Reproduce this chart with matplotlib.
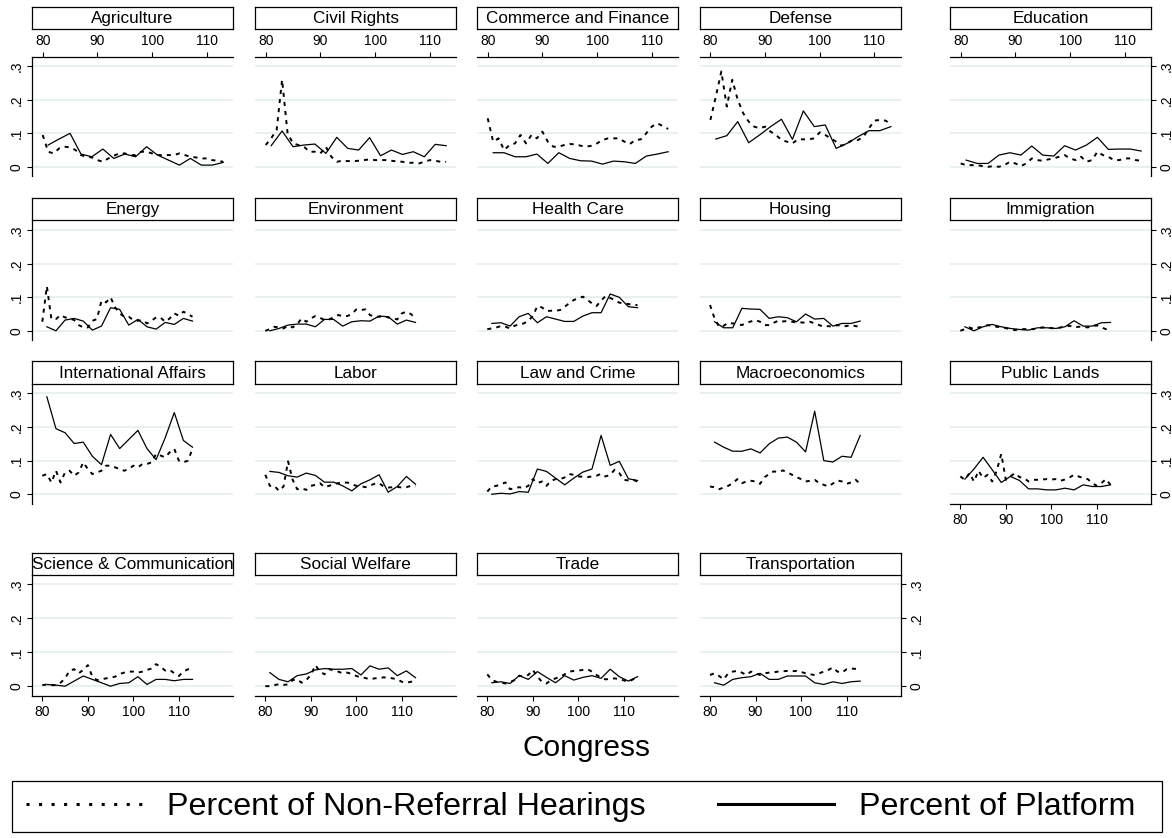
import matplotlib
matplotlib.use("Agg")
import matplotlib.pyplot as plt
from matplotlib.lines import Line2D
from matplotlib.patches import Rectangle

plt.rcParams['font.family'] = ['Liberation Sans', 'DejaVu Sans']

# ---------------- data ----------------
hear_congress = [80, 81, 82, 83, 84, 85, 86, 87, 88, 89, 90, 91, 92, 93, 94, 95, 96,
                 97, 98, 99, 100, 101, 102, 103, 104, 105, 106, 107, 108, 109, 110, 111, 112, 113]
plat_congress = [81, 83, 85, 87, 89, 91, 93, 95, 97, 99, 101, 103, 105, 107, 109, 111, 113]

topic_names = ["Agriculture", "Civil Rights", "Commerce and Finance", "Defense", "Education",
               "Energy", "Environment", "Health Care", "Housing", "Immigration",
               "International Affairs", "Labor", "Law and Crime", "Macroeconomics", "Public Lands",
               "Science & Communication", "Social Welfare", "Trade", "Transportation"]

agriculture_hear = [.095, .045, .040, .055, .060, .058, .050, .035, .030, .028, .020, .015, .025, .033, .040, .040, .035,
                    .035, .045, .045, .040, .035, .035, .035, .035, .040, .035, .030, .028, .025, .025, .020, .018, .015]
agriculture_plat = [.065, .083, .100, .038, .030, .053, .025, .038, .030, .060, .035, .020, .005, .025, .005, .005, .013]

civil_rights_hear = [.065, .085, .110, .260, .100, .070, .065, .060, .045, .045, .040, .060, .030, .015, .018, .017, .017,
                     .018, .020, .022, .020, .020, .020, .018, .016, .015, .012, .012, .010, .015, .020, .018, .015, .015]
civil_rights_plat = [.063, .107, .060, .065, .068, .040, .088, .055, .050, .087, .033, .050, .037, .045, .030, .067, .063]

commerce_hear = [.145, .075, .085, .050, .065, .070, .095, .070, .095, .085, .105, .075, .060, .060, .065, .068, .067,
                 .063, .060, .063, .070, .080, .085, .085, .085, .075, .068, .080, .082, .100, .120, .130, .122, .113]
commerce_plat = [.042, .042, .030, .030, .038, .010, .042, .025, .018, .017, .008, .017, .015, .010, .032, .038, .045]

defense_hear = [.140, .210, .285, .180, .260, .200, .160, .135, .120, .115, .120, .105, .095, .080, .075, .070, .082,
                .082, .082, .085, .103, .095, .085, .075, .063, .070, .080, .080, .090, .115, .138, .140, .138, .128]
defense_plat = [.083, .093, .135, .072, .095, .120, .142, .082, .167, .120, .125, .055, .070, .090, .108, .108, .120]

education_hear = [.010, .005, .005, .005, .002, .000, .002, .000, .005, .015, .010, .002, .010, .025, .020, .018, .022,
                  .025, .030, .035, .025, .020, .030, .015, .020, .045, .035, .030, .020, .020, .025, .025, .020, .018]
education_plat = [.020, .010, .010, .035, .042, .035, .062, .035, .032, .063, .050, .065, .088, .052, .053, .053, .047]

energy_hear = [.027, .133, .035, .035, .047, .040, .037, .032, .017, .010, .010, .030, .035, .090, .085, .100, .070,
               .052, .042, .042, .032, .030, .032, .022, .030, .040, .039, .027, .037, .052, .045, .057, .050, .042]
energy_plat = [.012, .000, .032, .037, .029, .002, .014, .069, .064, .017, .034, .012, .005, .025, .019, .037, .029]

environment_hear = [.000, .005, .012, .010, .007, .015, .010, .020, .037, .027, .037, .044, .039, .032, .034, .040, .047,
                    .044, .044, .050, .064, .062, .064, .047, .042, .042, .044, .040, .037, .034, .052, .057, .050, .037]
environment_plat = [.000, .007, .017, .020, .020, .012, .034, .034, .014, .027, .030, .029, .044, .042, .020, .032, .025]

health_hear = [.005, .007, .010, .014, .012, .007, .015, .019, .022, .030, .044, .074, .070, .059, .060, .060, .062,
               .072, .082, .092, .097, .102, .092, .082, .074, .090, .104, .098, .092, .084, .082, .080, .077, .077]
health_plat = [.022, .024, .014, .042, .052, .024, .042, .035, .028, .028, .044, .054, .054, .110, .100, .072, .069]

housing_hear = [.077, .037, .012, .015, .024, .022, .020, .017, .024, .028, .032, .027, .017, .017, .024, .030, .028,
                .029, .027, .025, .025, .024, .027, .022, .017, .012, .014, .012, .017, .014, .014, .017, .014, .012]
housing_plat = [.027, .009, .009, .067, .065, .064, .037, .042, .039, .027, .050, .035, .037, .014, .022, .022, .029]

immigration_hear = [.000, .005, .010, .005, .010, .012, .017, .015, .012, .010, .008, .005, .002, .005, .005, .005, .005,
                    .008, .010, .010, .008, .007, .010, .012, .015, .010, .012, .012, .010, .014, .016, .010, .005, .007]
immigration_plat = [.012, .000, .012, .019, .012, .007, .004, .002, .009, .009, .007, .012, .030, .014, .014, .024, .025]

intl_hear = [.055, .060, .035, .070, .035, .065, .070, .055, .065, .095, .075, .060, .065, .070, .085, .085, .080,
             .075, .070, .075, .085, .080, .090, .090, .095, .120, .115, .110, .125, .135, .100, .095, .100, .135]
intl_plat = [.290, .195, .183, .151, .155, .113, .088, .178, .136, .163, .190, .136, .103, .168, .243, .160, .140]

labor_hear = [.058, .025, .025, .010, .023, .098, .043, .015, .018, .013, .025, .028, .033, .021, .025, .030, .033,
              .034, .035, .030, .025, .024, .021, .026, .031, .033, .023, .020, .021, .022, .020, .021, .025, .025]
labor_plat = [.068, .065, .055, .051, .063, .056, .036, .036, .025, .010, .031, .043, .058, .006, .023, .053, .030]

law_hear = [.008, .023, .025, .030, .035, .015, .018, .021, .018, .025, .045, .033, .038, .025, .040, .045, .045,
            .050, .060, .058, .053, .052, .051, .053, .055, .061, .053, .058, .073, .063, .043, .041, .043, .038]
law_plat = [.000, .003, .001, .008, .006, .075, .068, .048, .028, .048, .066, .075, .175, .086, .098, .046, .041]

macro_hear = [.023, .021, .015, .020, .025, .033, .045, .033, .038, .040, .038, .031, .051, .060, .068, .066, .071,
              .065, .058, .051, .045, .038, .040, .043, .033, .028, .023, .032, .041, .038, .031, .035, .043, .031]
macro_plat = [.155, .140, .128, .128, .135, .123, .150, .167, .170, .155, .126, .247, .100, .096, .113, .110, .175]

public_lands_hear = [.053, .043, .063, .038, .070, .048, .058, .038, .070, .120, .043, .053, .063, .051, .048, .038, .043,
                     .043, .044, .045, .044, .045, .040, .044, .050, .058, .053, .048, .045, .033, .025, .033, .045, .028]
public_lands_plat = [.045, .075, .110, .073, .035, .053, .041, .016, .016, .013, .013, .018, .013, .028, .023, .023, .028]

science_hear = [.003, .005, .003, .003, .010, .023, .046, .050, .038, .048, .062, .028, .018, .020, .023, .025, .028,
                .036, .040, .043, .043, .040, .043, .048, .052, .065, .057, .046, .048, .038, .030, .043, .050, .048]
science_plat = [.005, .003, .000, .015, .030, .020, .010, .000, .008, .010, .028, .005, .020, .020, .016, .020, .020]

welfare_hear = [.000, .000, .003, .006, .004, .005, .018, .020, .010, .018, .033, .062, .043, .035, .050, .047, .043,
                .038, .040, .036, .030, .026, .024, .020, .023, .024, .026, .025, .023, .020, .013, .010, .013, .015]
welfare_plat = [.040, .020, .013, .031, .036, .048, .052, .050, .050, .052, .033, .060, .050, .054, .031, .045, .025]

trade_hear = [.035, .018, .013, .010, .008, .012, .018, .031, .028, .033, .048, .028, .013, .008, .018, .023, .028,
              .035, .043, .045, .046, .048, .050, .043, .033, .025, .020, .022, .023, .020, .017, .013, .020, .025]
trade_plat = [.010, .013, .008, .031, .020, .043, .026, .010, .031, .018, .026, .031, .023, .050, .028, .015, .028]

transport_hear = [.033, .038, .030, .020, .038, .043, .045, .040, .033, .043, .038, .033, .038, .040, .041, .043, .044,
                  .045, .044, .045, .042, .038, .035, .033, .038, .043, .048, .055, .043, .040, .050, .052, .051, .050]
transport_plat = [.010, .003, .020, .025, .028, .038, .020, .020, .030, .030, .030, .010, .005, .013, .008, .013, .015]

hear_series = [agriculture_hear, civil_rights_hear, commerce_hear, defense_hear, education_hear,
               energy_hear, environment_hear, health_hear, housing_hear, immigration_hear,
               intl_hear, labor_hear, law_hear, macro_hear, public_lands_hear,
               science_hear, welfare_hear, trade_hear, transport_hear]
plat_series = [agriculture_plat, civil_rights_plat, commerce_plat, defense_plat, education_plat,
               energy_plat, environment_plat, health_plat, housing_plat, immigration_plat,
               intl_plat, labor_plat, law_plat, macro_plat, public_lands_plat,
               science_plat, welfare_plat, trade_plat, transport_plat]

y_ticks = [0, .1, .2, .3]
y_ticklabels = ['0', '.1', '.2', '.3']
x_ticks = [80, 90, 100, 110]
legend_labels = ['Percent of Non-Referral Hearings', 'Percent of Platform']
x_title = 'Congress'

# ---------------- layout (pixels) ----------------
W, H = 1172, 838
fig = plt.figure(figsize=(W / 100, H / 100), dpi=100)


def fx(px):
    return px / W


def fy(py):
    return 1 - py / H


col_left = [32.3, 255.3, 477.3, 700.0, 950.3]
col_w = 200.7
row_tb = [(57.0, 176.5), (221.0, 340.5), (384.0, 504.0), (575.0, 696.0)]
title_top = [7.0, 198.0, 361.5, 552.5]
title_h = 22.5
GRID = '#e3ecee'

for idx, name in enumerate(topic_names):
    row, col = idx // 5, idx % 5
    top, bot = row_tb[row]
    left = col_left[col]
    ax = fig.add_axes([fx(left), fy(bot), col_w / W, (bot - top) / H])
    ax.plot(hear_congress, hear_series[idx], color='black', lw=1.4,
            linestyle=(0, (2.1, 2.6)))
    ax.plot(plat_congress, plat_series[idx], color='black', lw=0.9)

    ax.set_ylim(-0.029, 0.328)
    ax.set_yticks(y_ticks)
    ax.set_yticklabels(y_ticklabels)
    ax.grid(axis='y', color=GRID, lw=1.1)
    ax.set_axisbelow(True)
    if row == 0:
        ax.set_xlim(78.1, 114.8)
    else:
        ax.set_xlim(77.8, 121.9)
    ax.set_xticks(x_ticks)
    ax.set_xticklabels([str(v) for v in x_ticks])
    for s in ax.spines.values():
        s.set_visible(False)
        s.set_linewidth(0.9)

    top_x = row == 0
    bottom_x = row == 3 or idx == 14
    left_y = col == 0
    right_y = col == 4 or idx == 18
    ax.tick_params(axis='x', top=top_x, labeltop=top_x, bottom=bottom_x, labelbottom=bottom_x,
                   length=3.8, width=0.8, labelsize=10, pad=2.5, direction='out')
    ax.tick_params(axis='y', left=left_y, labelleft=left_y, right=right_y, labelright=right_y,
                   length=3.8, width=0.8, labelsize=10, pad=2.5, direction='out')
    ax.spines['top'].set_visible(top_x)
    ax.spines['bottom'].set_visible(bottom_x)
    ax.spines['left'].set_visible(left_y)
    ax.spines['right'].set_visible(right_y)
    for t in ax.yaxis.get_major_ticks():
        for lab in (t.label1, t.label2):
            lab.set_rotation(90)
            lab.set_va('center')

    # title box
    tax = fig.add_axes([fx(left), fy(title_top[row] + title_h), col_w / W, title_h / H])
    tax.set_xticks([])
    tax.set_yticks([])
    for s in tax.spines.values():
        s.set_linewidth(0.9)
    tax.text(0.5, 0.47, name, ha='center', va='center', fontsize=12.3, transform=tax.transAxes)

fig.text(fx(586), fy(748), x_title, ha='center', va='center', fontsize=21.5)

# legend frame (drawn separately so the entries can sit where the reference has them)
fig.patches.append(Rectangle((fx(12), fy(832)), (1162 - 12) / W, (832 - 781) / H,
                             transform=fig.transFigure, fill=False, edgecolor='black', lw=0.9))
LFS = 23.2
px_to_em = 72.0 / 100.0 / LFS
h1 = Line2D([], [], color='black', lw=2.2, linestyle=(0, (1, 3.1)))
h2 = Line2D([], [], color='black', lw=2.2)
leg = fig.legend([h1, h2], legend_labels, loc='center left',
                 bbox_to_anchor=(fx(26), fy(807)),
                 ncol=2, fontsize=LFS, frameon=False,
                 handlelength=116 * px_to_em, handletextpad=25 * px_to_em,
                 columnspacing=72 * px_to_em,
                 borderaxespad=0, borderpad=0)

fig.savefig('out.png', dpi=100, facecolor='white')
